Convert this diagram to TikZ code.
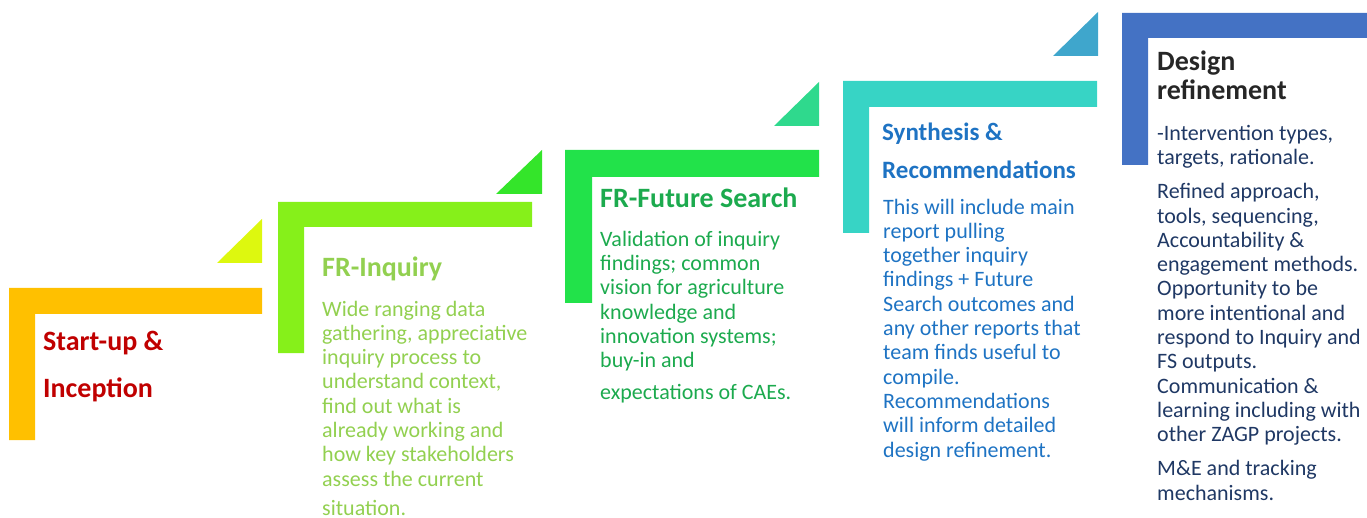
\documentclass[tikz,border=0pt]{standalone}
\usepackage{fontspec}
\setmainfont{Carlito}
\definecolor{stepone}{HTML}{FFC000}
\definecolor{triaone}{HTML}{DDF80F}
\definecolor{steptwo}{HTML}{86F01A}
\definecolor{triatwo}{HTML}{34E52A}
\definecolor{stepthree}{HTML}{22E24A}
\definecolor{triathree}{HTML}{2FD98D}
\definecolor{stepfour}{HTML}{37D4C5}
\definecolor{triafour}{HTML}{3FA6CC}
\definecolor{stepfive}{HTML}{4472C4}
\definecolor{txtone}{HTML}{C00000}
\definecolor{txttwo}{HTML}{92D050}
\definecolor{txtthree}{HTML}{1CAA4E}
\definecolor{txtfour}{HTML}{1E73C3}
\definecolor{txtfive}{HTML}{262626}
\definecolor{bodyfive}{HTML}{1F3864}
\begin{document}
\begin{tikzpicture}[x=1pt,y=-1pt,
	heading/.style={anchor=base west, inner sep=0pt, align=left, font=\fontsize{28}{38}\selectfont\bfseries},
	bodytext/.style={anchor=base west, inner sep=0pt, align=left, font=\fontsize{22}{24.3}\selectfont}]
				\useasboundingbox (0,0) rectangle (1367,518);
				\fill[stepone] (9,440) -- (9,288) -- (262,288) -- (262,314) -- (35,314) -- (35,440) -- cycle;
				\fill[triaone] (217,263) -- (262,263) -- (262,219) -- cycle;
				\fill[steptwo] (278,353) -- (278,202) -- (532,202) -- (532,227) -- (304,227) -- (304,353) -- cycle;
				\fill[triatwo] (496,194) -- (542,194) -- (542,150) -- cycle;
				\fill[stepthree] (565,303) -- (565,150) -- (819,150) -- (819,177) -- (592,177) -- (592,303) -- cycle;
				\fill[triathree] (774,126) -- (819,126) -- (819,82) -- cycle;
				\fill[stepfour] (843,233) -- (843,81) -- (1097,81) -- (1097,107) -- (869,107) -- (869,233) -- cycle;
				\fill[triafour] (1053,56) -- (1098,56) -- (1098,12) -- cycle;
				\fill[stepfive] (1122,165) -- (1122,13) -- (1367,13) -- (1367,38) -- (1148,38) -- (1148,165) -- cycle;
				\node[heading, txtone, font=\fontsize{28}{47}\selectfont\bfseries] (startup) at (43,397) {Start-up \&\\Inception};
				\node[heading, txttwo] (inquiry) at (322,277) {FR-Inquiry};
				\node[bodytext, txttwo] (inquirytext) at (322,515) {Wide ranging data\\gathering, appreciative\\inquiry process to\\understand context,\\find out what is\\already working and\\how key stakeholders\\assess the current\\[4.6pt]situation.};
				\node[heading, txtthree] (search) at (600,208) {FR-Future Search};
				\node[bodytext, txtthree] (searchtext) at (600,399) {Validation of inquiry\\findings; common\\vision for agriculture\\knowledge and\\innovation systems;\\buy-in and\\[7pt]expectations of CAEs.};
				\node[heading, txtfour, font=\fontsize{25}{38}\selectfont\bfseries] (synthesis) at (882,179) {Synthesis \&\\Recommendations};
				\node[bodytext, txtfour] (synthesistext) at (883,457) {This will include main\\report pulling\\together inquiry\\findings + Future\\Search outcomes and\\any other reports that\\team finds useful to\\compile.\\Recommendations\\will inform detailed\\design refinement.};
				\node[heading, txtfive, font=\fontsize{28}{29}\selectfont\bfseries] (design) at (1157,100) {Design\\refinement};
				\node[bodytext, bodyfive] (designtext) at (1157,500) {-Intervention types,\\targets, rationale.\\[9.7pt]Refined approach,\\tools, sequencing,\\Accountability \&\\engagement methods.\\Opportunity to be\\more intentional and\\respond to Inquiry and\\FS outputs.\\Communication \&\\learning including with\\other ZAGP projects.\\[9.7pt]M\&E and tracking\\mechanisms.};
			\end{tikzpicture}
\end{document}
